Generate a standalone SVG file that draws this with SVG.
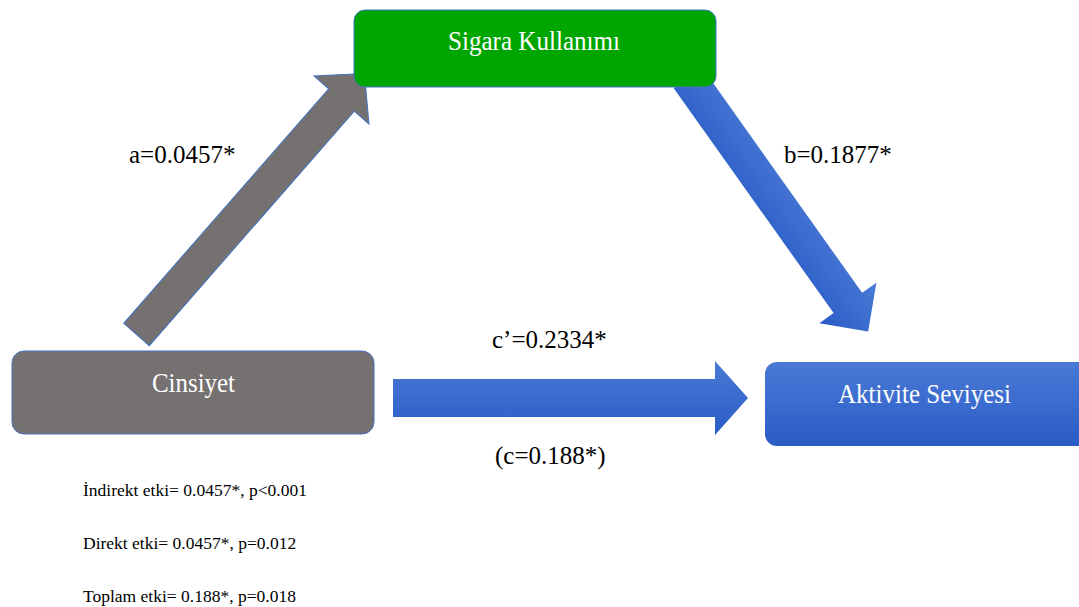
<svg xmlns="http://www.w3.org/2000/svg" width="1079" height="607" viewBox="0 0 1079 607">
  <defs>
    <linearGradient id="blueV" x1="0" y1="0" x2="0" y2="1">
      <stop offset="0" stop-color="#4a7ad6"/>
      <stop offset="1" stop-color="#2a5cc6"/>
    </linearGradient>
    <style>
      .lbl { font-family: "Liberation Serif", "Times New Roman", serif; font-size: 25px; fill: #000; }
      .note { font-family: "Liberation Serif", "Times New Roman", serif; font-size: 17.5px; fill: #000; }
      .ntxt { font-family: "Liberation Serif", "Times New Roman", serif; font-size: 28px; fill: #fff; text-anchor: middle; }
      .gray { fill: #767171; stroke: #4472c4; stroke-width: 1; }
      .blue { fill: url(#blueV); }
    </style>
  </defs>
  <rect width="1079" height="607" fill="#fff"/>

  <g id="connectors">
    <!-- a: Cinsiyet -> Sigara Kullanımı -->
    <polygon class="gray" transform="translate(136.5,334.5) rotate(-48.85)" points="0,-17 311.5,-17 311.5,-36.5 346.5,0 311.5,36.5 311.5,17 0,17"/>
    <!-- b: Sigara Kullanımı -> Aktivite Seviyesi -->
    <polygon class="blue" transform="translate(688,78) rotate(54.6)" points="0,-17.5 276,-17.5 276,-35 311,0 276,35 276,17.5 0,17.5"/>
    <!-- c': Cinsiyet -> Aktivite Seviyesi -->
    <polygon class="blue" points="393,379 715,379 715,361 748,398 715,435 715,417 393,417"/>
    <text class="lbl" x="129" y="163">a=0.0457*</text>
    <text class="lbl" x="784" y="163">b=0.1877*</text>
    <text class="lbl" x="492" y="348">c’=0.2334*</text>
    <text class="lbl" x="495" y="464">(c=0.188*)</text>
  </g>

  <g id="node-sigara">
    <rect x="354" y="10" width="362" height="77" rx="11" fill="#00a600" stroke="#4472c4" stroke-width="1"/>
    <text class="ntxt" x="534" y="50" textLength="172" lengthAdjust="spacingAndGlyphs">Sigara Kullanımı</text>
  </g>
  <g id="node-cinsiyet">
    <rect x="12" y="351" width="362" height="83" rx="12" fill="#767171" stroke="#4472c4" stroke-width="1"/>
    <text class="ntxt" x="193.5" y="392" textLength="83" lengthAdjust="spacingAndGlyphs">Cinsiyet</text>
  </g>
  <g id="node-aktivite">
    <rect x="765" y="362" width="325" height="84" rx="12" fill="url(#blueV)"/>
    <text class="ntxt" x="924.5" y="403" textLength="173" lengthAdjust="spacingAndGlyphs">Aktivite Seviyesi</text>
  </g>

  <g id="notes">
    <text class="note" x="83" y="496">İndirekt etki= 0.0457*, p&lt;0.001</text>
    <text class="note" x="83" y="549">Direkt etki= 0.0457*, p=0.012</text>
    <text class="note" x="83" y="602">Toplam etki= 0.188*, p=0.018</text>
  </g>
</svg>
